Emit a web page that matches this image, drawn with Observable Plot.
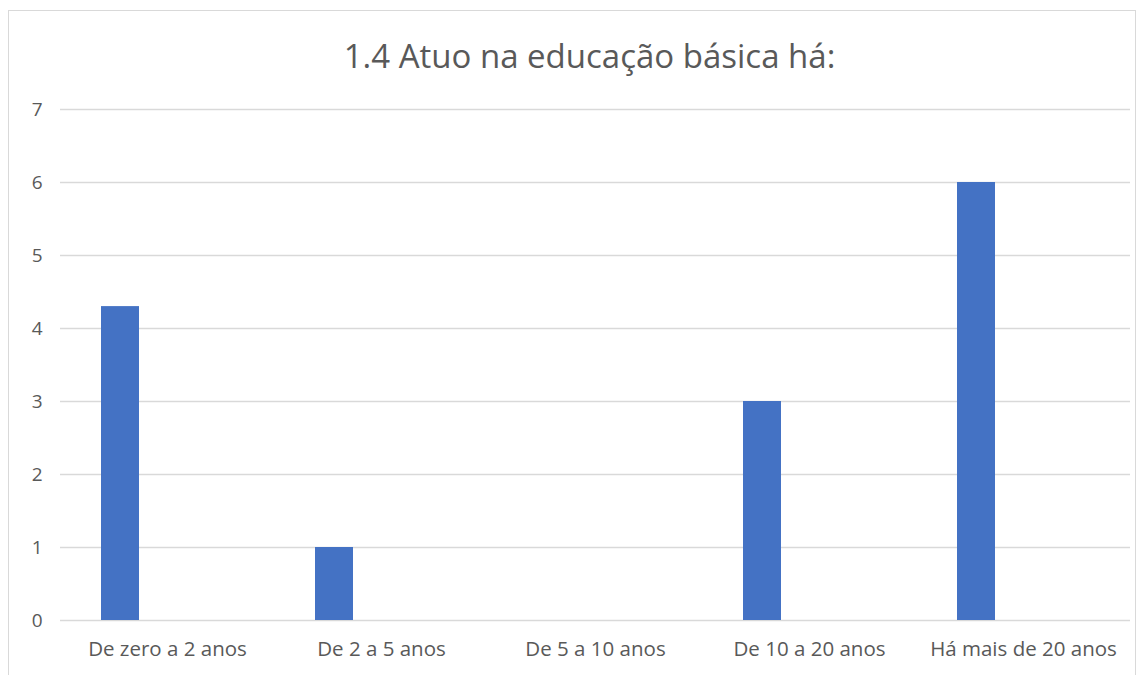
<!DOCTYPE html>
<html>
<head>
<meta charset="utf-8">
<script src="https://cdn.jsdelivr.net/npm/d3@7"></script>
<script src="https://cdn.jsdelivr.net/npm/@observablehq/plot@0.6"></script>
<style>
  html, body { margin: 0; padding: 0; background: #fff; }
  #wrap { position: relative; width: 1147px; height: 675px; overflow: hidden; font-family: "Open Sans", "Noto Sans", sans-serif; }
  #frame { position: absolute; left: 8px; top: 10px; width: 1128px; height: 700px; border: 1px solid #d9d9d9; box-sizing: border-box; }
  #title { position: absolute; left: 16px; top: 0; width: 1147px; height: 90px; line-height: 112px; text-align: center; font-size: 33px; color: #595959; }
  #chart { position: absolute; left: 0; top: 90px; }
</style>
</head>
<body>
<div id="wrap">
  <div id="frame"></div>
  <div id="title">1.4 Atuo na educação básica há:</div>
  <div id="chart"></div>
</div>
<script>
const categories = ["De zero a 2 anos", "De 2 a 5 anos", "De 5 a 10 anos", "De 10 a 20 anos", "Há mais de 20 anos"];
const values = [4.3, 1, 0, 3, 6];
const yTicks = [0, 1, 2, 3, 4, 5, 6, 7];

const data = categories.map((c, i) => ({category: c, value: values[i]}));

const plot = Plot.plot({
  width: 1147,
  height: 585,
  marginLeft: 60,
  marginRight: 17,
  marginTop: 19,
  marginBottom: 55,
  style: {fontFamily: "'Open Sans', 'Noto Sans', sans-serif", color: "#595959", background: "transparent"},
  x: {domain: categories, padding: 0, label: null},
  y: {domain: [0, 7], ticks: yTicks, label: null},
  marks: [
    Plot.ruleY(yTicks, {stroke: "#d9d9d9", strokeWidth: 1.3}),
    Plot.barY(data.filter(d => d.value > 0), {x: "category", y: "value", fill: "#4472c4", insetLeft: 41, insetRight: 135}),
    Plot.axisY({ticks: yTicks, tickSize: 0, tickPadding: 18, tickFormat: d => String(d), label: null, fontSize: 19}),
    Plot.axisX({tickSize: 0, tickPadding: 21, label: null, fontSize: 20.5})
  ]
});
document.getElementById("chart").appendChild(plot);
</script>
</body>
</html>
